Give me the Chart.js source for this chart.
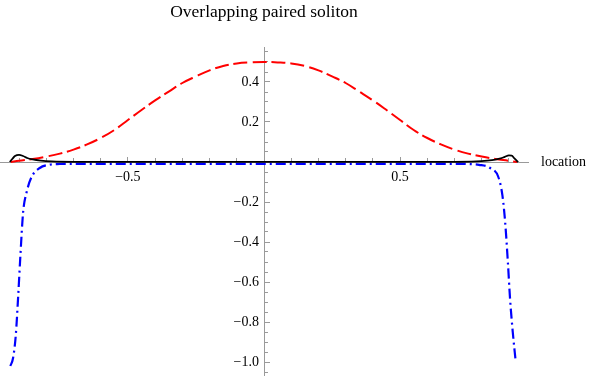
<!DOCTYPE html>
<html>
<head>
<meta charset="utf-8">
<script src="https://cdn.jsdelivr.net/npm/chart.js@4.4.1/dist/chart.umd.min.js"></script>
<style>
  html, body { margin: 0; padding: 0; background: #ffffff; }
  #wrap { width: 589px; height: 376px; }
</style>
</head>
<body>
<div id="wrap"><canvas id="c" width="589" height="376"></canvas></div>
<script>
// ---- data ----
const chartTitle = 'Overlapping paired soliton';
const xAxisLabel = 'location';

const redX = [-0.93, -0.9, -0.85, -0.8, -0.75, -0.7, -0.65, -0.6, -0.55, -0.5, -0.45, -0.4, -0.35, -0.3, -0.25, -0.2, -0.15, -0.1, -0.05, 0,
              0.05, 0.1, 0.15, 0.2, 0.25, 0.3, 0.35, 0.4, 0.45, 0.5, 0.55, 0.6, 0.65, 0.7, 0.75, 0.8, 0.85, 0.9, 0.93];
const redY = [0.0, 0.006, 0.015, 0.027, 0.042, 0.062, 0.088, 0.12, 0.16, 0.21, 0.26, 0.308, 0.352, 0.395, 0.428, 0.458, 0.48, 0.493, 0.498, 0.5,
              0.498, 0.493, 0.48, 0.458, 0.428, 0.395, 0.352, 0.308, 0.26, 0.21, 0.16, 0.12, 0.088, 0.062, 0.042, 0.027, 0.015, 0.006, 0.0];

const blackX = [-0.934, -0.925, -0.915, -0.9, -0.885, -0.87, -0.85, -0.82, -0.78, -0.7, 0, 0.7, 0.78, 0.82, 0.85, 0.87, 0.885, 0.9, 0.91, 0.92, 0.934];
const blackY = [0, 0.015, 0.03, 0.036, 0.03, 0.02, 0.013, 0.007, 0.003, 0.001, 0.001, 0.001, 0.003, 0.007, 0.012, 0.018, 0.026, 0.033, 0.032, 0.018, 0];

const blueX = [-0.932, -0.922, -0.912, -0.903, -0.895, -0.885, -0.872, -0.854, -0.824, -0.79, -0.75, -0.7, 0, 0.7, 0.75, 0.79, 0.831, 0.861, 0.876, 0.886, 0.896, 0.904, 0.914, 0.925];
const blueY = [-1.02, -0.98, -0.866, -0.666, -0.466, -0.25, -0.15, -0.075, -0.03, -0.014, -0.01, -0.009, -0.009, -0.009, -0.01, -0.014, -0.03, -0.075, -0.167, -0.3, -0.5, -0.683, -0.85, -1.0];

const xMajorTicks = [-0.5, 0.5];
const xTickLabels = ['\u22120.5', '0.5'];
const xMinorTicks = [-0.9, -0.8, -0.7, -0.6, -0.4, -0.3, -0.2, -0.1, 0.1, 0.2, 0.3, 0.4, 0.6, 0.7, 0.8, 0.9];

const yMajorTicks = [-1.0, -0.8, -0.6, -0.4, -0.2, 0.2, 0.4];
const yTickLabels = ['\u22121.0', '\u22120.8', '\u22120.6', '\u22120.4', '\u22120.2', '0.2', '0.4'];
const yMinorTicks = [-1.05, -0.95, -0.9, -0.85, -0.75, -0.7, -0.65, -0.55, -0.5, -0.45, -0.35, -0.3, -0.25, -0.15, -0.1, -0.05,
                     0.05, 0.1, 0.15, 0.25, 0.3, 0.35, 0.45, 0.5, 0.55];

// ---- chart ----
const pts = (xs, ys) => xs.map((x, i) => ({ x: x, y: ys[i] }));
const AXIS = '#9a9a9a';
const SERIF = '"Liberation Serif", "Times New Roman", serif';

const X_MIN = -0.97, X_MAX = 0.97, Y_MIN = -1.07, Y_MAX = 0.575;

function zeroFit(s) {
  if (s.isHorizontal()) s.height = 0; else s.width = 0;
  s.paddingTop = 0; s.paddingBottom = 0; s.paddingLeft = 0; s.paddingRight = 0;
}
function setTicks(arr) {
  return (s) => { s.ticks = arr.map(v => ({ value: v })); };
}

const axisLabelPlugin = {
  id: 'axisLabel',
  afterDraw(chart) {
    const ctx = chart.ctx;
    const area = chart.chartArea;
    const y0 = chart.scales.y.getPixelForValue(0);
    ctx.save();
    ctx.font = '14px ' + SERIF;
    ctx.fillStyle = '#000';
    ctx.textAlign = 'left';
    ctx.textBaseline = 'middle';
    ctx.fillText(xAxisLabel, area.right + 13, y0);
    ctx.restore();
  }
};

new Chart(document.getElementById('c'), {
  type: 'scatter',
  data: {
    datasets: [
      {
        label: 'black', data: pts(blackX, blackY), showLine: true,
        borderColor: '#000000', borderWidth: 1.8,
        pointRadius: 0, cubicInterpolationMode: 'monotone', order: 1
      },
      {
        label: 'blue', data: pts(blueX, blueY), showLine: true,
        borderColor: '#0000ff', borderWidth: 2.2, borderDash: [10, 4, 2, 4],
        pointRadius: 0, cubicInterpolationMode: 'monotone', order: 2
      },
      {
        label: 'red', data: pts(redX, redY), showLine: true,
        borderColor: '#ff0000', borderWidth: 2, borderDash: [14, 5],
        pointRadius: 0, tension: 0.4, order: 3
      }
    ]
  },
  options: {
    responsive: false,
    animation: false,
    layout: { autoPadding: false, padding: { left: 0, right: 61, top: 0, bottom: 0 } },
    plugins: {
      legend: { display: false },
      tooltip: { enabled: false },
      title: {
        display: true, text: chartTitle, fullSize: false,
        color: '#000', font: { family: SERIF, size: 17.5, weight: 'normal' },
        padding: { top: 1.5, bottom: 24.5 }
      }
    },
    scales: {
      x: {
        type: 'linear', min: X_MIN, max: X_MAX, position: { y: 0 },
        afterFit: zeroFit, afterBuildTicks: setTicks(xMajorTicks),
        grid: { drawOnChartArea: false, drawTicks: true, tickLength: -6, tickColor: AXIS, tickWidth: 1 },
        border: { display: true, color: AXIS, width: 1 },
        ticks: { autoSkip: false, maxRotation: 0, padding: 13, color: '#000', font: { family: SERIF, size: 14 },
                 callback: (v, i) => xTickLabels[i] }
      },
      xMinor: {
        type: 'linear', axis: 'x', min: X_MIN, max: X_MAX, position: { y: 0 },
        afterFit: zeroFit, afterBuildTicks: setTicks(xMinorTicks),
        grid: { drawOnChartArea: false, drawTicks: true, tickLength: -4, tickColor: AXIS, tickWidth: 1 },
        border: { display: false },
        ticks: { autoSkip: false, maxRotation: 0, callback: () => '' }
      },
      y: {
        type: 'linear', min: Y_MIN, max: Y_MAX, position: 'center',
        afterFit: zeroFit, afterBuildTicks: setTicks(yMajorTicks),
        grid: { drawOnChartArea: false, drawTicks: true, tickLength: -6, tickColor: AXIS, tickWidth: 1 },
        border: { display: true, color: AXIS, width: 1 },
        ticks: { autoSkip: false, padding: 11, color: '#000', font: { family: SERIF, size: 14 },
                 callback: (v, i) => yTickLabels[i] }
      },
      yMinor: {
        type: 'linear', axis: 'y', min: Y_MIN, max: Y_MAX, position: 'center',
        afterFit: zeroFit, afterBuildTicks: setTicks(yMinorTicks),
        grid: { drawOnChartArea: false, drawTicks: true, tickLength: -4, tickColor: AXIS, tickWidth: 1 },
        border: { display: false },
        ticks: { autoSkip: false, callback: () => '' }
      }
    }
  },
  plugins: [axisLabelPlugin]
});
</script>
</body>
</html>
